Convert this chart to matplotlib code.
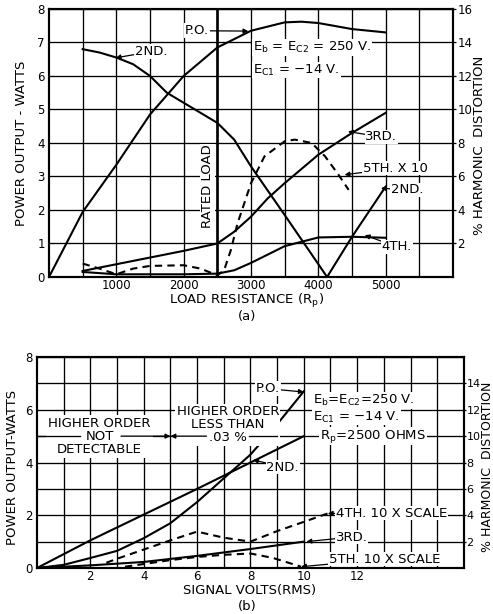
import numpy as np
import matplotlib.pyplot as plt

plt.rcParams['font.family'] = ['DejaVu Sans']

# ---- (a) vs load resistance ----
rp_po = [0, 500, 1000, 1500, 2000, 2500, 3000, 3500, 3750, 4000, 4500, 5000]
po_a = [0, 1.94, 3.35, 4.85, 6.0, 6.85, 7.35, 7.6, 7.62, 7.58, 7.4, 7.3]

rp_2nd = [500, 750, 1000, 1250, 1500, 1750, 2000, 2250, 2500, 2750, 3000, 3500, 4130, 4500, 5000]
h2_a = [13.6, 13.4, 13.1, 12.7, 12.0, 11.0, 10.4, 9.8, 9.2, 8.2, 6.6, 3.7, 0, 2.4, 5.4]

rp_3rd = [500, 1000, 1500, 2000, 2500, 2750, 3000, 3250, 3500, 4000, 4500, 5000]
h3_a = [0.36, 0.76, 1.16, 1.56, 2.0, 2.7, 3.6, 4.7, 5.6, 7.3, 8.6, 9.8]

rp_4th = [500, 1000, 1500, 2000, 2500, 2750, 3000, 3500, 4000, 4500, 5000]
h4_a = [0.3, 0.16, 0.16, 0.16, 0.2, 0.4, 0.84, 1.84, 2.36, 2.4, 2.34]

rp_5th = [500, 750, 1000, 1250, 1500, 2000, 2250, 2500, 2600, 2700, 2800, 3000, 3200,
          3500, 3650, 3900, 4100, 4300, 4450]
h5_a = [0.8, 0.5, 0.16, 0.5, 0.66, 0.7, 0.5, 0.1, 0.4, 1.6, 3.2, 5.6, 7.2,
        8.1, 8.2, 8.0, 7.2, 6.1, 5.2]

# ---- (b) vs signal volts ----
sv_po = [0, 1, 2, 3, 4, 5, 6, 7, 8, 9, 10]
po_b = [0, 0.12, 0.38, 0.65, 1.13, 1.7, 2.5, 3.4, 4.3, 5.45, 6.7]

sv_2nd = [0, 2, 4, 6, 8, 10]
h2_b = [0, 2.1, 4.05, 6.0, 8.0, 10.0]

sv_3rd = [0, 2, 4, 6, 8, 10]
h3_b = [0, 0.2, 0.46, 0.92, 1.44, 2.0]

sv_4th = [2.6, 3, 4, 5, 6, 7, 8, 9, 10, 10.9]
h4_b = [0.4, 0.7, 1.4, 2.1, 2.76, 2.3, 2.0, 2.8, 3.5, 4.14]

sv_5th = [3.3, 4, 5, 6, 7, 8, 8.85, 9.9]
h5_b = [0.1, 0.3, 0.6, 0.84, 1.0, 1.1, 0.76, 0.1]

fig = plt.figure(figsize=(4.93, 6.14), dpi=100)
FS = 8.5     # tick labels
FA = 9.5     # annotations
FT = 9.5     # axis titles
CLW = 1.5
DASH = (0, (3.5, 2.5))
box = dict(facecolor='white', edgecolor='none', pad=0.6)
arw = dict(arrowstyle='-|>', lw=0.9, color='k', mutation_scale=7, shrinkA=0, shrinkB=0)


def frame(ax, ax2, xpad):
    for a in (ax, ax2):
        for s in a.spines.values():
            s.set_linewidth(1.5)
    ax.grid(True, which='both', color='k', lw=0.95)
    ax.tick_params(which='both', length=0, labelsize=FS, pad=3)
    ax.tick_params(axis='x', pad=xpad)
    ax2.tick_params(length=2, width=0.9, labelsize=FS, pad=1)


# ================= (a) =================
ax = fig.add_axes([0.0994, 0.5489, 0.8195, 0.4365])
ax.set_xlim(0, 6000)
ax.set_ylim(0, 8)
ax.set_xticks([1000, 2000, 3000, 4000, 5000])
ax.set_xticks(np.arange(500, 6000, 500), minor=True)
ax.set_yticks(range(0, 9))
ax2 = ax.twinx()
ax2.set_ylim(0, 16)
ax2.set_yticks(range(2, 17, 2))
frame(ax, ax2, 1.2)

ax.axvline(2500, color='k', lw=1.9)
ax.plot(rp_po, po_a, color='k', lw=CLW)
ax2.plot(rp_2nd, h2_a, color='k', lw=CLW)
ax2.plot(rp_3rd, h3_a, color='k', lw=CLW)
ax2.plot(rp_4th, h4_a, color='k', lw=CLW)
ax2.plot(rp_5th, h5_a, color='k', lw=CLW, ls=DASH)

ax2.annotate('P.O.', xy=(2960, 14.68), xytext=(2020, 14.7), fontsize=FA, va='center',
             bbox=box, arrowprops=arw, zorder=6)
ax2.annotate('2ND.', xy=(990, 13.08), xytext=(1270, 13.45), fontsize=FA, va='center',
             bbox=box, arrowprops=arw, zorder=6)
ax2.text(3030, 13.7, r'E$_\mathrm{b}$ = E$_\mathrm{C2}$ = 250 V.', fontsize=FA, va='center',
         bbox=box, zorder=6)
ax2.text(3030, 12.35, r'E$_\mathrm{C1}$ = $-$14 V.', fontsize=FA, va='center',
         bbox=box, zorder=6)
ax2.text(2350, 5.4, 'RATED LOAD', rotation=90, fontsize=FA, ha='center', va='center',
         bbox=box, zorder=6)
ax2.annotate('3RD.', xy=(4440, 8.68), xytext=(4700, 8.36), fontsize=FA, va='center',
             bbox=box, arrowprops=arw, zorder=6)
ax2.annotate('5TH. X 10', xy=(4390, 6.1), xytext=(4660, 6.5), fontsize=FA, va='center',
             bbox=box, arrowprops=arw, zorder=6)
ax2.annotate('2ND.', xy=(4930, 5.3), xytext=(5080, 5.2), fontsize=FA, va='center',
             bbox=box, arrowprops=arw, zorder=6)
ax2.annotate('4TH.', xy=(4690, 2.5), xytext=(4940, 1.8), fontsize=FA, va='center',
             bbox=box, arrowprops=arw, zorder=6)

fig.text(0.044, 0.767, 'POWER OUTPUT - WATTS', rotation=90, ha='center', va='center', fontsize=FT)
fig.text(0.972, 0.764, '% HARMONIC  DISTORTION', rotation=90, ha='center', va='center', fontsize=FT)
fig.text(0.501, 0.5105, r'LOAD RESISTANCE (R$_\mathrm{p}$)', ha='center', va='center', fontsize=FT)
fig.text(0.501, 0.4845, '(a)', ha='center', va='center', fontsize=FT)

# ================= (b) =================
bx = fig.add_axes([0.075, 0.0749, 0.866, 0.3436])
bx.set_xlim(0, 16)
bx.set_ylim(0, 8)
bx.set_xticks([2, 4, 6, 8, 10, 12])
bx.set_xticks(np.arange(1, 16, 1), minor=True)
bx.set_yticks([0, 2, 4, 6, 8])
bx.set_yticks([1, 3, 5, 7], minor=True)
bx2 = bx.twinx()
bx2.set_ylim(0, 16)
bx2.set_yticks(range(2, 15, 2))
frame(bx, bx2, 1.5)
bx2.tick_params(length=1.5, pad=0.3, labelsize=8)

bx.plot(sv_po, po_b, color='k', lw=CLW)
bx2.plot(sv_2nd, h2_b, color='k', lw=CLW)
bx2.plot(sv_3rd, h3_b, color='k', lw=CLW)
bx2.plot(sv_4th, h4_b, color='k', lw=CLW, ls=DASH)
bx2.plot(sv_5th, h5_b, color='k', lw=CLW, ls=DASH)

bx2.text(2.35, 10.0, 'HIGHER ORDER\nNOT\nDETECTABLE', ha='center', va='center',
         fontsize=FA, linespacing=1.0, bbox=dict(facecolor='white', edgecolor='none', pad=1.5),
         zorder=5)
bx2.text(7.15, 10.85, 'HIGHER ORDER\nLESS THAN\n.03 %', ha='center', va='center',
         fontsize=FA, linespacing=1.0, bbox=dict(facecolor='white', edgecolor='none', pad=1),
         zorder=5)
bx2.plot([0, 1.6], [10, 10], color='k', lw=0.95, zorder=6)
bx2.annotate('', xy=(5.0, 10), xytext=(3.15, 10), arrowprops=dict(arw, lw=0.95), zorder=6)
bx2.annotate('', xy=(5.0, 10), xytext=(6.35, 10), arrowprops=dict(arw, lw=0.95), zorder=6)
bx2.plot([7.95, 9.0], [10, 10], color='k', lw=0.95, zorder=6)

bx2.annotate('P.O.', xy=(10.0, 13.35), xytext=(8.2, 13.6), fontsize=FA, va='center',
             bbox=box, arrowprops=arw, zorder=6)
bx2.text(10.35, 12.72, r'E$_\mathrm{b}$=E$_\mathrm{C2}$=250 V.', fontsize=FA, va='center',
         bbox=box, zorder=6)
bx2.text(10.35, 11.45, r'E$_\mathrm{C1}$ = $-$14 V.', fontsize=FA, va='center',
         bbox=box, zorder=6)
bx2.text(10.6, 10.0, r'R$_\mathrm{p}$=2500 OHMS', fontsize=FA, va='center',
         bbox=box, zorder=6)
bx2.annotate('2ND.', xy=(8.1, 8.2), xytext=(8.6, 7.66), fontsize=FA, va='center',
             bbox=box, arrowprops=arw, zorder=6)
bx2.annotate('4TH. 10 X SCALE', xy=(10.9, 4.14), xytext=(11.2, 4.16), fontsize=FA, va='center',
             bbox=box, arrowprops=arw, zorder=6)
bx2.annotate('3RD.', xy=(10.1, 2.0), xytext=(11.2, 2.35), fontsize=FA, va='center',
             bbox=box, arrowprops=arw, zorder=6)
bx2.annotate('5TH. 10 X SCALE', xy=(9.9, 0.1), xytext=(10.95, 0.68), fontsize=FA, va='center',
             bbox=box, arrowprops=arw, zorder=6)

fig.text(0.026, 0.238, 'POWER OUTPUT-WATTS', rotation=90, ha='center', va='center', fontsize=FT)
fig.text(0.9885, 0.239, '% HARMONIC  DISTORTION', rotation=90, ha='center', va='center', fontsize=9)
fig.text(0.507, 0.0375, 'SIGNAL VOLTS(RMS)', ha='center', va='center', fontsize=FT)
fig.text(0.501, 0.013, '(b)', ha='center', va='center', fontsize=FT)

fig.savefig('out.png', dpi=100)
